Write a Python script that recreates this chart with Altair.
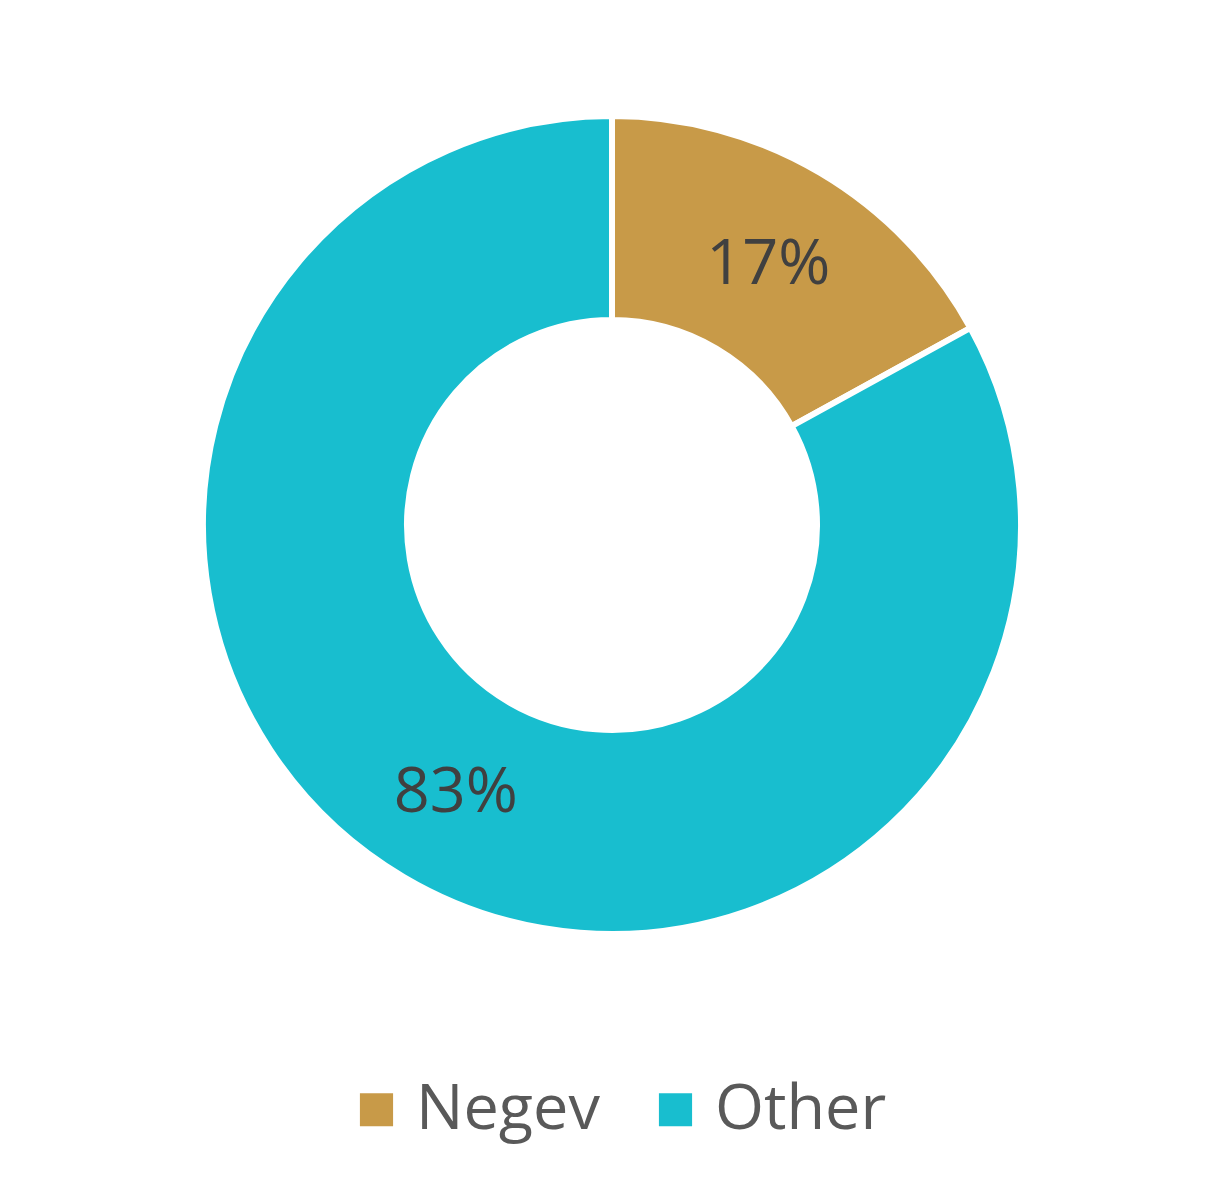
import altair as alt
import pandas as pd

categories = ["Negev", "Other"]
values = [17, 83]
labels = ["17%", "83%"]
colors = ["#C89A48", "#18BECF"]

df = pd.DataFrame({"cat": categories, "val": values, "label": labels, "ord": [0, 1]})

base = alt.Chart(df).encode(
    theta=alt.Theta("val:Q", stack=True),
    order=alt.Order("ord:Q"),
)

arc = base.mark_arc(outerRadius=409, innerRadius=205, stroke="white", strokeWidth=6).encode(
    color=alt.Color(
        "cat:N",
        scale=alt.Scale(domain=categories, range=colors),
        sort=categories,
        legend=alt.Legend(
            title=None,
            orient="none",
            direction="horizontal",
            legendX=337,
            legendY=1070,
            symbolType="square",
            symbolSize=1100,
            symbolStrokeWidth=0,
            labelFont="Open Sans",
            labelFontSize=63,
            labelColor="#595959",
            labelOffset=8,
            columnPadding=44,
            padding=0,
            labelLimit=400,
        ),
    )
)

text = base.mark_text(radius=307, dy=4, font="Open Sans", fontSize=63, color="#404040").encode(
    text="label:N"
)

chart = (
    alt.layer(arc, text)
    .properties(width=1208, height=1034, padding={"left": 0, "top": 0, "right": 0, "bottom": 100})
    .configure_view(stroke=None)
)

chart.save("out.html", embed_options={"renderer": "svg", "actions": False})
